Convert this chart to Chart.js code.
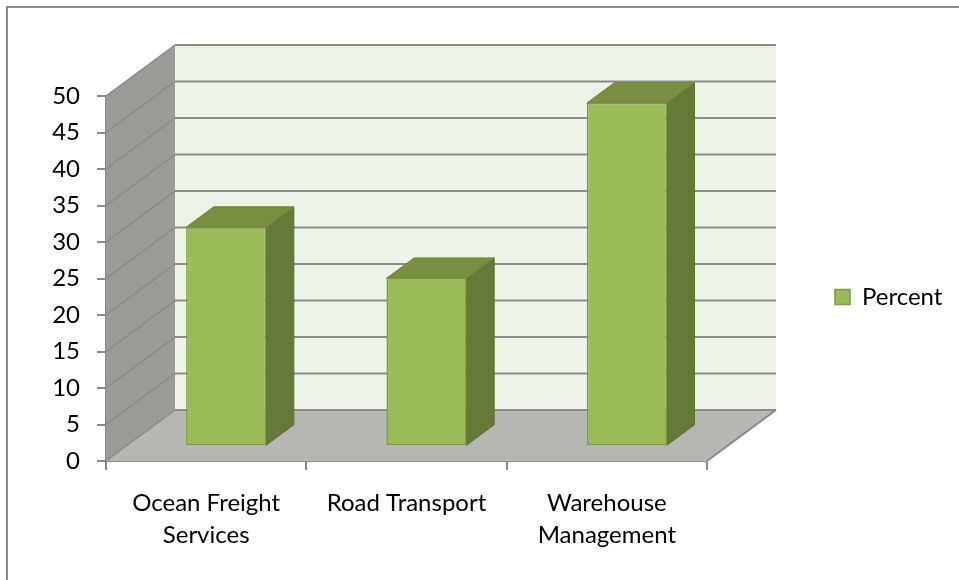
<!DOCTYPE html>
<html>
<head>
<meta charset="utf-8">
<script src="https://cdn.jsdelivr.net/npm/chart.js@4.4.0/dist/chart.umd.min.js"></script>
<style>
html,body{margin:0;padding:0;background:#ffffff;}
#wrap{width:959px;height:580px;position:relative;}
</style>
</head>
<body>
<div id="wrap"><canvas id="c"></canvas></div>
<script>
// ---- data ----
const categories = [['Ocean Freight', 'Services'], 'Road Transport', ['Warehouse', 'Management']];
const seriesName = 'Percent';
const percentValues = [30, 23, 47];
const yMin = 0;
const yMax = 50;
const yStep = 5;

// ---- styling / geometry ----
const FONT = 'Lato';
const DEPTH = { x: 69, y: -51 };   // full depth of the 3D box
const BAR_FRONT = 0.29;            // bar front face depth fraction
const BAR_BACK = 0.69;             // bar back face depth fraction

function poly(ctx, pts, fill, stroke, lw) {
  ctx.beginPath();
  ctx.moveTo(pts[0][0], pts[0][1]);
  for (let i = 1; i < pts.length; i++) ctx.lineTo(pts[i][0], pts[i][1]);
  ctx.closePath();
  if (fill) { ctx.fillStyle = fill; ctx.fill(); }
  if (stroke) { ctx.strokeStyle = stroke; ctx.lineWidth = lw || 1; ctx.stroke(); }
}
function line(ctx, x1, y1, x2, y2, color, lw) {
  ctx.beginPath();
  ctx.moveTo(x1, y1); ctx.lineTo(x2, y2);
  ctx.strokeStyle = color; ctx.lineWidth = lw; ctx.stroke();
}

const excel3d = {
  id: 'excel3d',
  afterLayout(chart) {
    const lg = chart.legend;
    if (!lg) return;
    const w = lg.width;
    lg.left = 825; lg.right = lg.left + w;
    lg.top = 277; lg.bottom = 317;
  },
  beforeDraw(chart) {
    const ctx = chart.ctx;
    ctx.save();
    ctx.strokeStyle = '#8c8c8c';
    ctx.lineWidth = 2;
    ctx.strokeRect(7, 7, 1000, 1000);
    ctx.restore();
  },
  beforeDatasetsDraw(chart) {
    const { ctx, chartArea: a, scales: { x, y } } = chart;
    const dx = DEPTH.x, dy = DEPTH.y;
    const y0 = y.getPixelForValue(yMin), yT = y.getPixelForValue(yMax);
    ctx.save();
    // back wall
    poly(ctx, [[a.left + dx, yT + dy], [a.right + dx, yT + dy], [a.right + dx, y0 + dy], [a.left + dx, y0 + dy]], '#EEF3E8');
    // left side wall
    poly(ctx, [[a.left, y0], [a.left, yT], [a.left + dx, yT + dy], [a.left + dx, y0 + dy]], '#9A9C97');
    // floor
    poly(ctx, [[a.left, y0], [a.right, y0], [a.right + dx, y0 + dy], [a.left + dx, y0 + dy]], '#B5B7B2');
    // gridlines on back wall and side wall
    y.ticks.forEach(t => {
      const py = y.getPixelForValue(t.value);
      line(ctx, a.left + dx, py + dy, a.right + dx, py + dy, '#8A8A8A', 2);
      line(ctx, a.left, py, a.left + dx, py + dy, '#8A8A8A', 1.5);
    });
    // floor right edge
    line(ctx, a.right, y0, a.right + dx, y0 + dy, '#8A8A8A', 2);
    // bar side & top faces
    const meta = chart.getDatasetMeta(0);
    meta.data.forEach(bar => {
      const p = bar.getProps(['x', 'y', 'base', 'width'], true);
      const l = p.x - p.width / 2, r = p.x + p.width / 2;
      const fx = dx * BAR_FRONT, fy = dy * BAR_FRONT, bx = dx * BAR_BACK, by = dy * BAR_BACK;
      poly(ctx, [[r + fx, p.y + fy], [r + bx, p.y + by], [r + bx, p.base + by], [r + fx, p.base + fy]], '#667A37', '#5E7332', 1);
      poly(ctx, [[l + fx, p.y + fy], [r + fx, p.y + fy], [r + bx, p.y + by], [l + bx, p.y + by]], '#788F42', '#6C8439', 1);
    });
    ctx.restore();
    ctx.save();
    ctx.translate(dx * BAR_FRONT, dy * BAR_FRONT);
  },
  afterDatasetsDraw(chart) {
    chart.ctx.restore();
  }
};

new Chart(document.getElementById('c'), {
  type: 'bar',
  data: {
    labels: categories,
    datasets: [{
      label: seriesName,
      data: percentValues,
      backgroundColor: '#9BBB59',
      borderColor: '#7D9B42',
      borderWidth: 1.5,
      borderSkipped: false,
      categoryPercentage: 1.0,
      barPercentage: 0.4,
      clip: false
    }]
  },
  options: {
    responsive: true,
    maintainAspectRatio: false,
    animation: false,
    events: [],
    layout: { padding: { left: 0, top: 96, right: 252, bottom: 0 } },
    plugins: {
      tooltip: { enabled: false },
      title: { display: false },
      legend: {
        position: 'chartArea',
        labels: {
          boxWidth: 15,
          boxHeight: 15,
          padding: 10,
          color: '#000',
          font: { family: FONT, size: 24 }
        }
      }
    },
    scales: {
      x: {
        ticks: { color: '#000', font: { family: FONT, size: 24, lineHeight: 1.3 }, padding: 18, maxRotation: 0, autoSkip: false },
        grid: { offset: true, drawOnChartArea: false, drawTicks: true, tickLength: 9, color: '#8A8A8A', lineWidth: 2 },
        border: { display: true, color: '#8A8A8A', width: 2 },
        afterFit(s) { s.height = 119; }
      },
      y: {
        min: yMin, max: yMax,
        ticks: { stepSize: yStep, color: '#000', font: { family: FONT, size: 24 }, padding: 17 },
        grid: { drawOnChartArea: false, drawTicks: true, tickLength: 9, color: '#8A8A8A', lineWidth: 2 },
        border: { display: true, color: '#8A8A8A', width: 2 },
        afterFit(s) { s.width = 106; }
      }
    }
  },
  plugins: [excel3d]
});
</script>
</body>
</html>
